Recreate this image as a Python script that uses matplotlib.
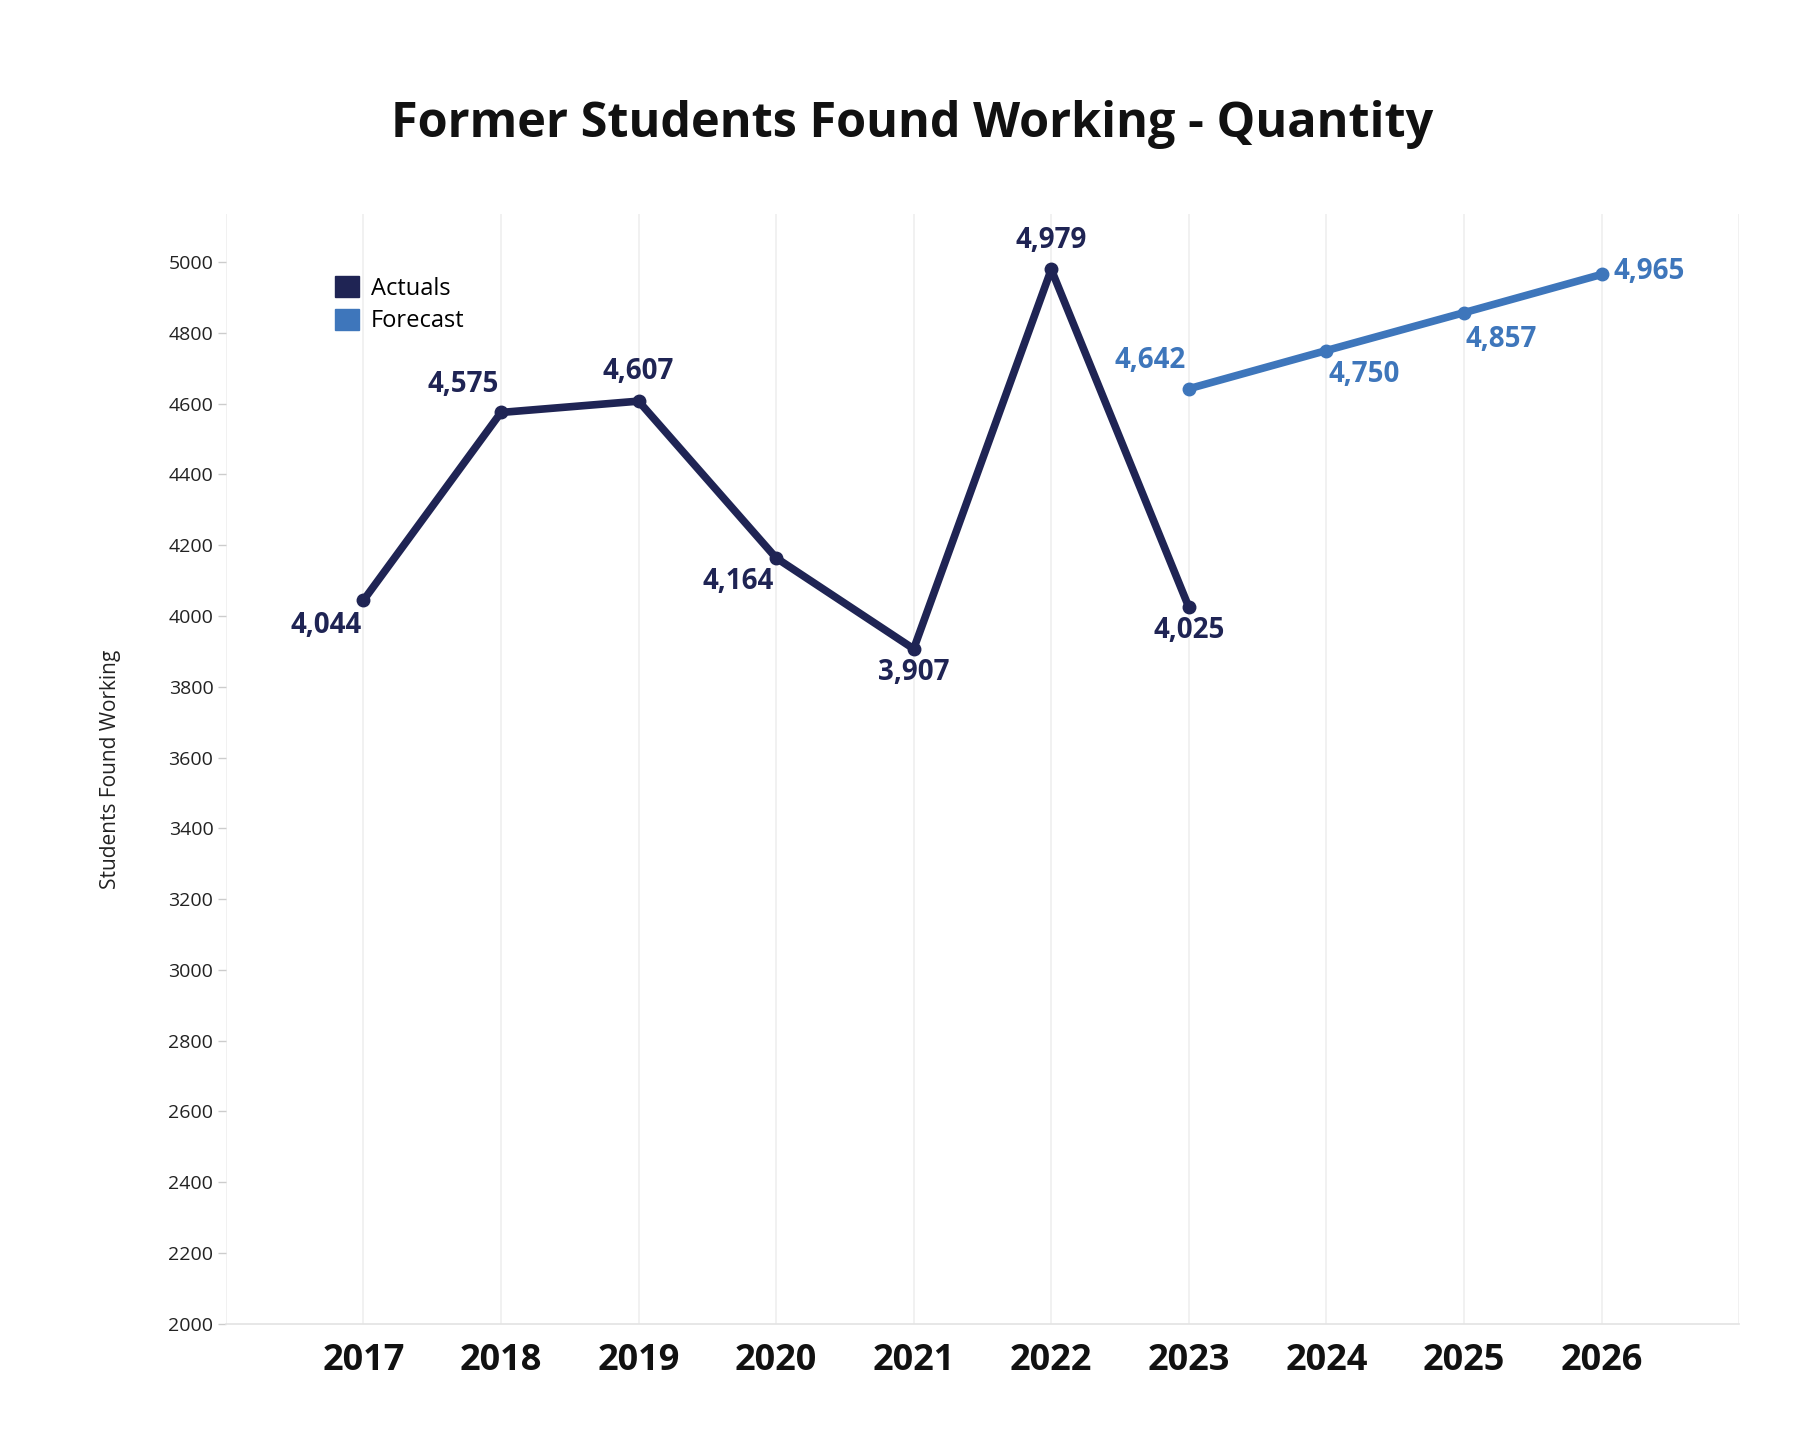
import matplotlib
matplotlib.use("Agg")
import matplotlib.pyplot as plt
from matplotlib.patches import Patch

# ---- data ----
actual_years = [2017, 2018, 2019, 2020, 2021, 2022, 2023]
actual_values = [4044, 4575, 4607, 4164, 3907, 4979, 4025]
forecast_years = [2023, 2024, 2025, 2026]
forecast_values = [4642, 4750, 4857, 4965]
x_ticks = [2017, 2018, 2019, 2020, 2021, 2022, 2023, 2024, 2025, 2026]
y_ticks = list(range(2000, 5001, 200))
title = "Former Students Found Working - Quantity"
y_label = "Students Found Working"
series_names = ["Actuals", "Forecast"]

# label offsets (points)
actual_offsets = [(-27, -18), (-27, 20), (0, 21), (-27, -17), (0, -17), (0, 21), (0, -17)]
forecast_offsets = [(-28, 20), (27, -17), (27, -19), (34, 2)]

NAVY = "#1f2454"
BLUE = "#3e76bb"
FONT = "Open Sans"

plt.rcParams["font.family"] = [FONT, "DejaVu Sans"]

fig = plt.figure(figsize=(18.14, 14.42), dpi=100)
ax = fig.add_axes([0.1245, 0.082, 0.8342, 0.7694])

ax.set_xlim(2016, 2027)
ax.set_ylim(2000, 5135)

for x in x_ticks + [2016, 2027]:
    ax.axvline(x, color="#efefef", lw=1.2, zorder=0)

ax.plot(actual_years, actual_values, color=NAVY, lw=5.5, marker="o", ms=9,
        solid_capstyle="round", zorder=3)
ax.plot(forecast_years, forecast_values, color=BLUE, lw=5.5, marker="o", ms=9,
        solid_capstyle="round", zorder=3)

for x, y, off in zip(actual_years, actual_values, actual_offsets):
    ax.annotate(f"{y:,}", (x, y), xytext=off, textcoords="offset points",
                ha="center", va="center", fontsize=20, fontweight="bold", color=NAVY)
for x, y, off in zip(forecast_years, forecast_values, forecast_offsets):
    ax.annotate(f"{y:,}", (x, y), xytext=off, textcoords="offset points",
                ha="center", va="center", fontsize=20, fontweight="bold", color=BLUE)

for s in ["top", "right", "left"]:
    ax.spines[s].set_visible(False)
ax.spines["bottom"].set_color("#e3e3e3")
ax.spines["bottom"].set_linewidth(1.2)

ax.set_xticks(x_ticks)
ax.set_xticklabels([str(v) for v in x_ticks], fontsize=26, fontweight="bold", color="#111111")
ax.tick_params(axis="x", length=0, pad=14)
ax.set_yticks(y_ticks)
ax.set_yticklabels([str(v) for v in y_ticks], fontsize=14, color="#222222")
ax.tick_params(axis="y", length=6, color="#cccccc", width=1, pad=3)

ax.set_ylabel(y_label, fontsize=15, color="#222222")
ax.yaxis.set_label_coords(-0.069, 0.5)

fig.suptitle(title, x=0.503, y=0.914, va="center", fontsize=35, fontweight="bold", color="#111111")

handles = [Patch(facecolor=NAVY, edgecolor=NAVY), Patch(facecolor=BLUE, edgecolor=BLUE)]
ax.legend(handles, series_names, loc="upper left", bbox_to_anchor=(0.066, 0.953),
          frameon=False, fontsize=17, handlelength=1.0, handleheight=1.0,
          handletextpad=0.5, labelspacing=0.35, borderaxespad=0)

fig.savefig("out.png", dpi=100, facecolor="white")
